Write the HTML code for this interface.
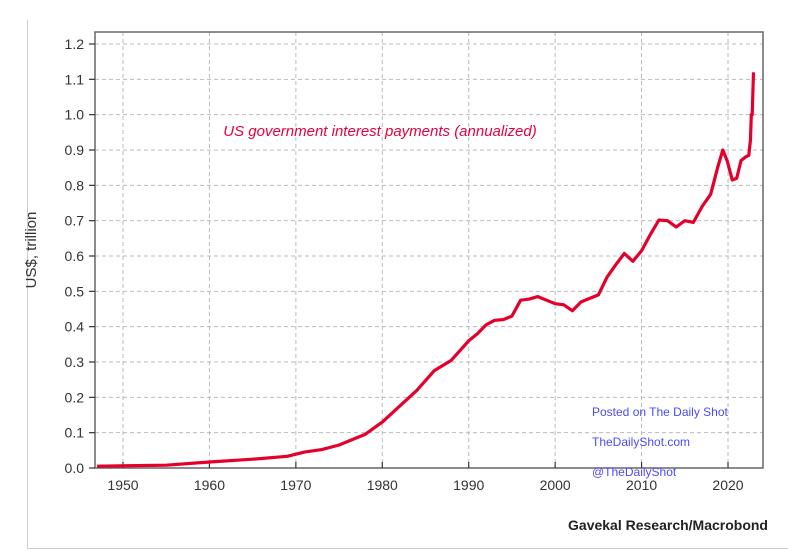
<!DOCTYPE html>
<html><head><meta charset="utf-8"><style>
body{margin:0;background:#fff;}
svg{display:block;font-family:"Liberation Sans",sans-serif;}
</style></head><body>
<svg width="788" height="555" viewBox="0 0 788 555" xmlns="http://www.w3.org/2000/svg">
<line x1="27.5" y1="20" x2="27.5" y2="548" stroke="#ccc" stroke-width="1"/>
<line x1="27" y1="548.5" x2="788" y2="548.5" stroke="#ccc" stroke-width="1"/>
<g id="grid" stroke="#bbb" stroke-width="1" stroke-dasharray="4,3"></g>
<rect x="95" y="32" width="668" height="436" fill="none" stroke="#666" stroke-width="1.5"/>
<g id="ticks" stroke="#333" stroke-width="1.2"></g>
<g id="labels" font-size="14" fill="#333"></g>
<text x="36" y="250" font-size="15" fill="#333" text-anchor="middle" transform="rotate(-90 36 250)">US$, trillion</text>
<text x="380" y="136" font-size="15" fill="#e8003d" font-style="italic" text-anchor="middle">US government interest payments (annualized)</text>
<path id="series" fill="none" stroke="#e4002b" stroke-width="3.2" stroke-linejoin="round"/>
<g font-size="12" fill="#4a4aff">
<text x="592" y="416">Posted on The Daily Shot</text>
<text x="592" y="446">TheDailyShot.com</text>
<text x="592" y="476">@TheDailyShot</text>
</g>
<text x="768" y="530" font-size="14" font-weight="bold" fill="#222" text-anchor="end">Gavekal Research/Macrobond</text>
</svg>
<script>
var X=function(y){return 123+(y-1950)*8.643},Y=function(v){return 468-v*353.33};
var g=document.getElementById('grid'),t=document.getElementById('ticks'),l=document.getElementById('labels'),ns='http://www.w3.org/2000/svg';
function el(p,n,a,txt){var e=document.createElementNS(ns,n);for(var k in a)e.setAttribute(k,a[k]);if(txt)e.textContent=txt;p.appendChild(e);}
for(var i=1;i<=12;i++){var y=Y(i/10);el(g,'line',{x1:95,x2:763,y1:y,y2:y});}
for(var i=0;i<=12;i++){var y=Y(i/10);el(t,'line',{x1:89,x2:95,y1:y,y2:y});el(l,'text',{x:84,y:y+5,'text-anchor':'end'},(i/10).toFixed(1));}
for(var yr=1950;yr<=2020;yr+=10){var x=X(yr);el(g,'line',{x1:x,x2:x,y1:32,y2:468});el(t,'line',{x1:x,x2:x,y1:462,y2:468});el(l,'text',{x:x,y:490,'text-anchor':'middle'},yr);}
var d=[[1947,.005],[1955,.008],[1960,.017],[1965,.025],[1969,.033],[1971,.045],[1973,.052],[1975,.065],[1978,.095],[1980,.13],[1982,.175],[1984,.22],[1986,.275],[1988,.305],[1990,.36],[1991,.38],[1992,.405],[1993,.418],[1994,.42],[1995,.43],[1996,.475],[1997,.478],[1998,.485],[1999,.475],[2000,.465],[2001,.462],[2002,.445],[2003,.47],[2004,.48],[2005,.49],[2006,.54],[2007,.575],[2008,.607],[2009,.585],[2010,.615],[2011,.66],[2012,.702],[2013,.70],[2014,.682],[2015,.70],[2016,.695],[2017,.74],[2018,.775],[2018.8,.85],[2019.4,.9],[2019.9,.87],[2020.5,.815],[2021,.82],[2021.5,.87],[2022,.88],[2022.4,.885],[2022.6,.93],[2022.7,1.0],[2022.8,1.0],[2022.95,1.12]];
document.getElementById('series').setAttribute('d',d.map(function(p,i){return (i?'L':'M')+X(p[0]).toFixed(1)+' '+Y(p[1]).toFixed(1)}).join(''));
</script>
</body></html>
